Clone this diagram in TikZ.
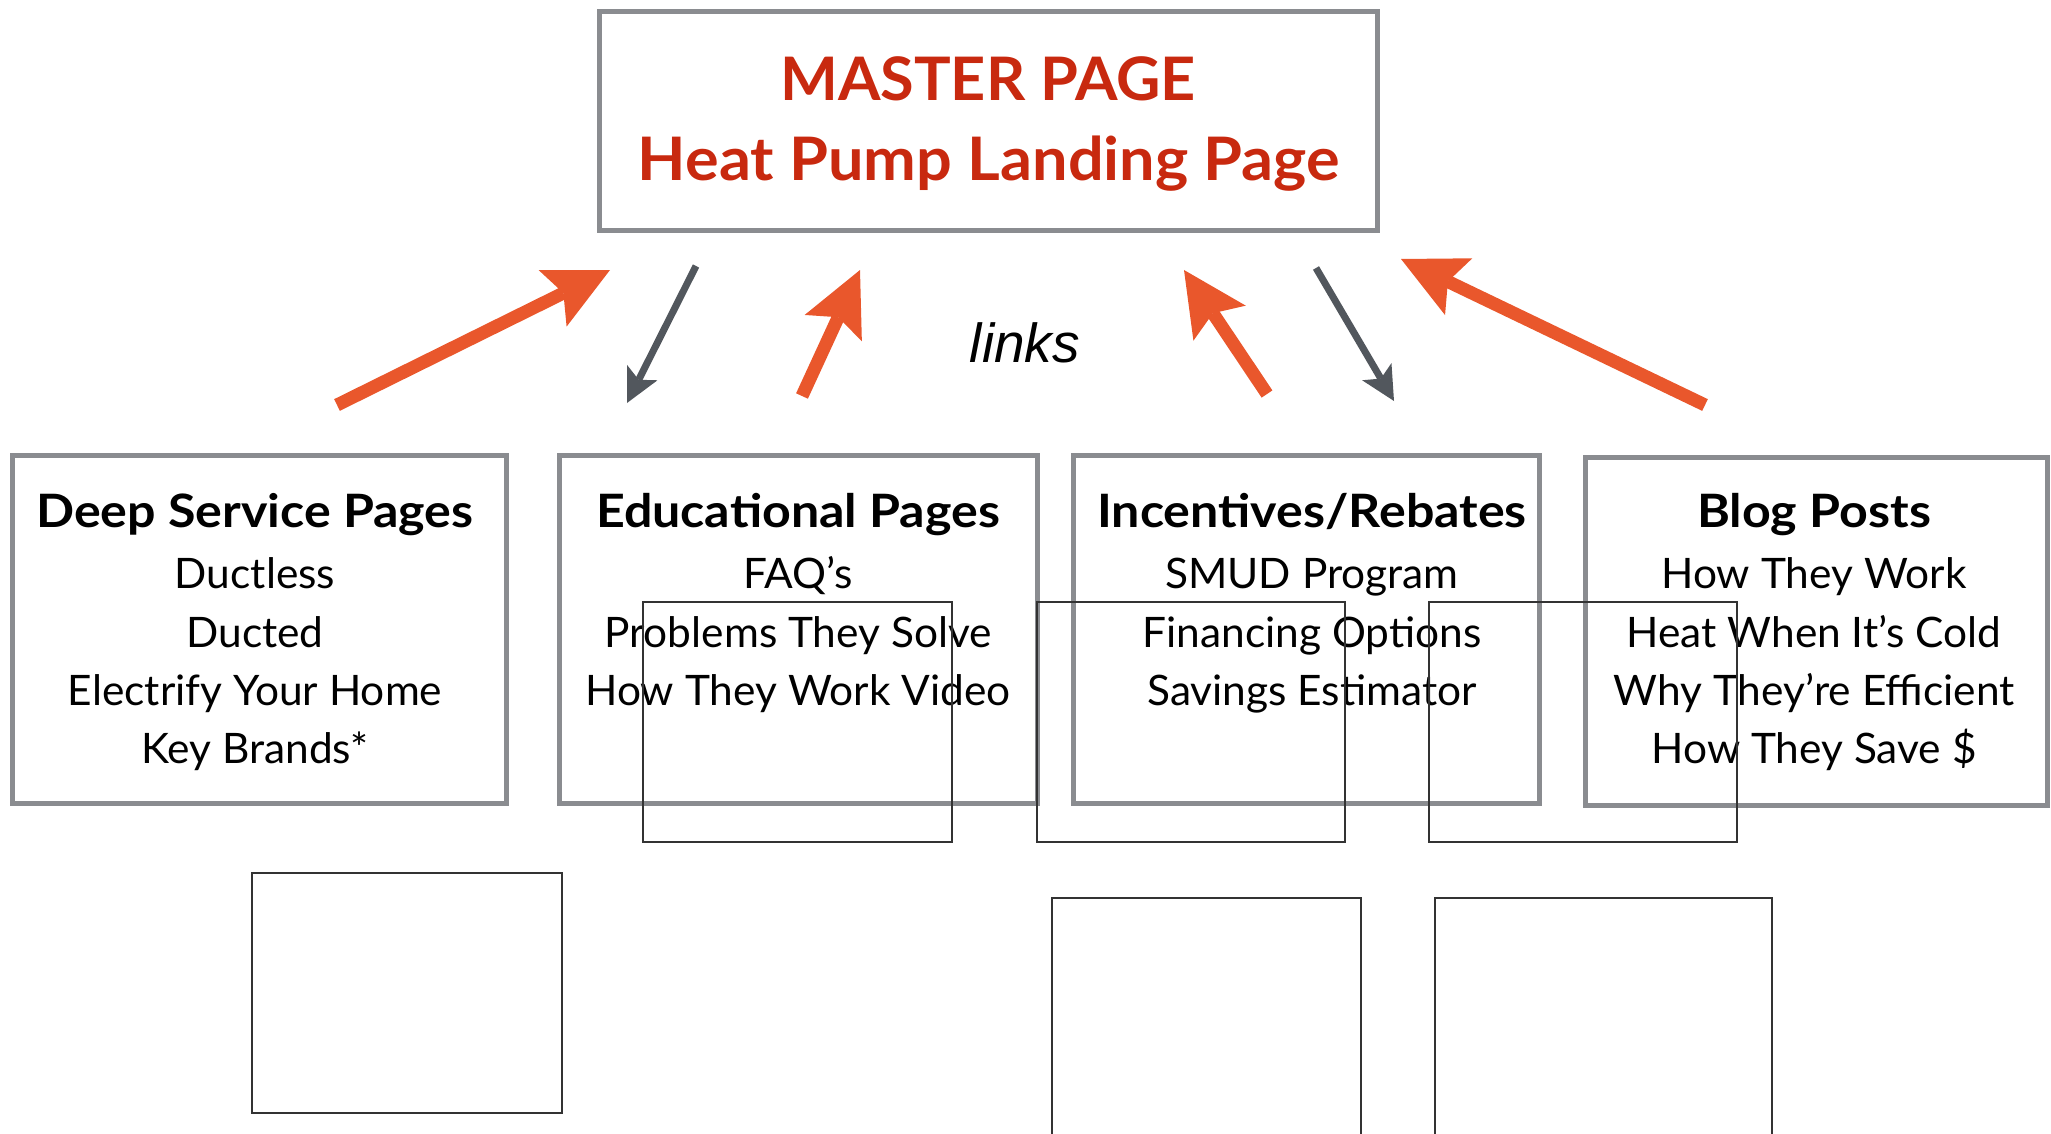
\documentclass[tikz,border=0pt]{standalone}
\usepackage{fontspec}
\setmainfont{Lato}
\newfontfamily\bodyfont[FakeStretch=1.01]{Lato}
\newfontfamily\hdrfont[FakeStretch=1.09]{Lato Bold}
\newfontfamily\mafont[FakeStretch=1.02]{Lato Bold}
\newfontfamily\mbfont[FakeStretch=1.05]{Lato Bold}
\newfontfamily\linksfont{Liberation Sans}
\usetikzlibrary{arrows.meta}
\definecolor{boxgray}{HTML}{8A8C90}
\definecolor{arrorange}{HTML}{E9572C}
\definecolor{arrgray}{HTML}{52575D}
\definecolor{masterred}{HTML}{C8290F}
\begin{document}
\begin{tikzpicture}[x=1pt,y=-1pt,
 pagebox/.style={draw=boxgray, line width=5pt},
 thinbox/.style={draw=black!80, line width=1.3pt},
 hdr/.style={anchor=base, inner sep=0pt, font=\hdrfont\fontsize{46}{46}\selectfont},
 item/.style={anchor=base, inner sep=0pt, font=\bodyfont\fontsize{42}{42}\selectfont},
 mtxt/.style={anchor=base, inner sep=0pt, text=masterred},
 uparrow/.style={draw=arrorange, line width=13pt, -{Stealth[length=64pt,width=63pt,inset=12pt,line width=0pt]}},
 downarrow/.style={draw=arrgray, line width=7pt, -{Stealth[length=34pt,width=34pt,inset=8pt,line width=0pt]}},
]
\path[use as bounding box] (0,0) rectangle (2051,1134);

% boxes
\draw[pagebox] (599,12) rectangle (1377,231);
\draw[pagebox] (12,455) rectangle (506,803);
\draw[pagebox] (559,455) rectangle (1037,803);
\draw[pagebox] (1073,455) rectangle (1539,803);
\draw[pagebox] (1585,457) rectangle (2047,805);

% master text
\node[mtxt, font=\mafont\fontsize{60}{60}\selectfont] (m1) at (988,101) {MASTER PAGE};
\node[mtxt, font=\mbfont\fontsize{60}{60}\selectfont] (m2) at (989,181) {Heat Pump Landing Page};

% box 1
\node[hdr] (h1) at (255,527) {Deep Service Pages};
\node[item] (a1) at (255,588) {Ductless};
\node[item] (a2) at (255,647) {Ducted};
\node[item] (a3) at (255,705) {Electrify Your Home};
\node[item] (a4) at (255,763) {Key Brands*};
% box 2
\node[hdr] (h2) at (798,527) {Educational Pages};
\node[item] (b1) at (798,588) {FAQ’s};
\node[item] (b2) at (798,647) {Problems They Solve};
\node[item] (b3) at (798,705) {How They Work Video};
% box 3
\node[hdr] (h3) at (1312,527) {Incentives/Rebates};
\node[item] (c1) at (1312,588) {SMUD Program};
\node[item] (c2) at (1312,647) {Financing Options};
\node[item] (c3) at (1312,705) {Savings Estimator};
% box 4
\node[hdr] (h4) at (1814,527) {Blog Posts};
\node[item] (d1) at (1814,588) {How They Work};
\node[item] (d2) at (1814,647) {Heat When It’s Cold};
\node[item] (d3) at (1814,705) {Why They’re Efficient};
\node[item] (d4) at (1814,763) {How They Save \$};

% links label
\node[anchor=base, inner sep=0pt, font=\linksfont\itshape\fontsize{55}{55}\selectfont] (lk) at (1025,362) {links};

% arrow endpoints
\coordinate (t1) at (337,405); \coordinate (p1) at (610,270);
\coordinate (t2) at (696,266); \coordinate (p2) at (627,403);
\coordinate (t3) at (802,396); \coordinate (p3) at (860,270);
\coordinate (t4) at (1267,394); \coordinate (p4) at (1184,270);
\coordinate (t5) at (1316,268); \coordinate (p5) at (1394,401);
\coordinate (t6) at (1705,405); \coordinate (p6) at (1401,259);
\draw[uparrow] (t1) -- (p1);
\draw[downarrow] (t2) -- (p2);
\draw[uparrow] (t3) -- (p3);
\draw[uparrow] (t4) -- (p4);
\draw[downarrow] (t5) -- (p5);
\draw[uparrow] (t6) -- (p6);

% thin rectangles
\draw[thinbox] (643,602) rectangle (952,842);
\draw[thinbox] (1037,602) rectangle (1345,842);
\draw[thinbox] (1429,602) rectangle (1737,842);
\draw[thinbox] (252,873) rectangle (562,1113);
\draw[thinbox] (1052,898) rectangle (1361,1150);
\draw[thinbox] (1435,898) rectangle (1772,1150);
\end{tikzpicture}
\end{document}
